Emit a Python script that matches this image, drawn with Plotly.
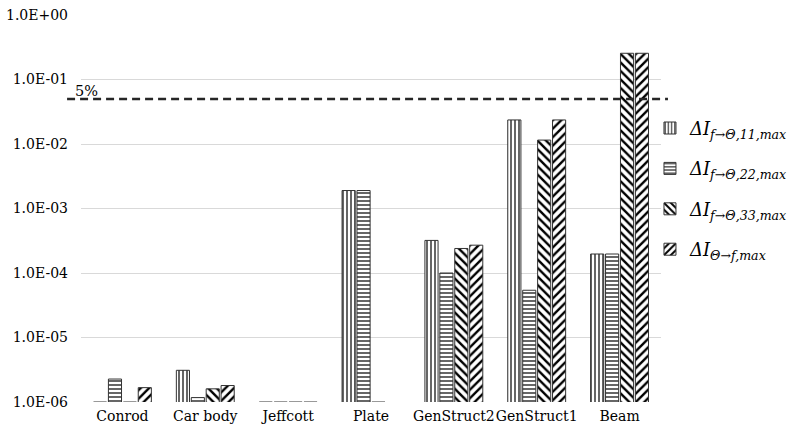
import math
import plotly.graph_objects as go

# Categories (model names) on the x axis
models = ["Conrod", "Car body", "Jeffcott", "Plate", "GenStruct2", "GenStruct1", "Beam"]

# Maximum deviations per model (log scale, 1.0E-06 is the axis floor)
dI_f_theta_11 = [1.0e-6, 3.1e-6, 1.0e-6, 1.9e-3, 3.2e-4, 2.36e-2, 1.97e-4]
dI_f_theta_22 = [2.27e-6, 1.17e-6, 1.0e-6, 1.9e-3, 1.0e-4, 5.4e-5, 1.97e-4]
dI_f_theta_33 = [1.0e-6, 1.6e-6, 1.0e-6, 1.0e-6, 2.4e-4, 1.15e-2, 2.55e-1]
dI_theta_f = [1.67e-6, 1.8e-6, 1.0e-6, None, 2.7e-4, 2.36e-2, 2.55e-1]

# Legend names
names = [
    "<i>ΔI<sub>f→Θ,11,max</sub></i>",
    "<i>ΔI<sub>f→Θ,22,max</sub></i>",
    "<i>ΔI<sub>f→Θ,33,max</sub></i>",
    "<i>ΔI<sub>Θ→f,max</sub></i>",
]

# Y tick values and labels
y_tickvals = [1e-6, 1e-5, 1e-4, 1e-3, 1e-2, 1e-1, 1e0]
y_ticktext = ["1.0E-06", "1.0E-05", "1.0E-04", "1.0E-03", "1.0E-02", "1.0E-01", "1.0E+00"]

# 5% threshold line
threshold = 0.05
threshold_label = "5%"
y_min_exp, y_max_exp = -6, 0

series = [dI_f_theta_11, dI_f_theta_22, dI_f_theta_33, dI_theta_f]
patterns = [
    dict(shape="|", size=4, solidity=0.3),
    dict(shape="-", size=4, solidity=0.3),
    dict(shape="\\", size=6, solidity=0.4),
    dict(shape="/", size=6, solidity=0.4),
]

FONT = "DejaVu Serif"

fig = go.Figure()
for i, (vals, name, pat) in enumerate(zip(series, names, patterns)):
    fig.add_trace(go.Bar(
        x=models,
        y=vals,
        name=name,
        legendgroup=f"g{i}",
        marker=dict(
            color="white",
            line=dict(color="#333333", width=1),
            pattern=dict(fgcolor="black", bgcolor="white", fillmode="replace", **pat),
        ),
    ))

# threshold position as a fraction of the log axis height
thr_frac = (math.log10(threshold) - y_min_exp) / (y_max_exp - y_min_exp)
fig.add_shape(
    type="line", xref="paper", yref="paper",
    x0=-0.024, x1=1.012, y0=thr_frac, y1=thr_frac,
    line=dict(color="#262626", width=2.5, dash="8px,5px"),
    layer="above",
)
fig.add_annotation(
    text=threshold_label, xref="paper", yref="paper",
    x=-0.014, y=thr_frac,
    xanchor="left", yanchor="bottom", showarrow=False,
    font=dict(family=FONT, size=14.5, color="black"),
    yshift=-2,
)

fig.update_layout(
    width=790, height=430,
    margin=dict(l=81, r=129, t=15, b=28, autoexpand=False),
    paper_bgcolor="white", plot_bgcolor="white",
    barmode="group", bargap=0.28, bargroupgap=0.12,
    font=dict(family=FONT, size=14, color="black"),
    legend=dict(
        x=0.981, y=0.755, xanchor="left", yanchor="top",
        font=dict(family=FONT, size=18, color="black"),
        tracegroupgap=14,
        itemwidth=30,
        bgcolor="rgba(0,0,0,0)",
    ),
    xaxis=dict(
        showgrid=False, showline=False, zeroline=False, automargin=False,
        tickfont=dict(family=FONT, size=14, color="black"),
        ticks="", tickangle=0, ticklabelstandoff=4,
    ),
    yaxis=dict(
        type="log", range=[y_min_exp, y_max_exp], automargin=False,
        tickvals=y_tickvals, ticktext=y_ticktext,
        showgrid=True, gridcolor="#d9d9d9", gridwidth=1.3,
        showline=False, zeroline=False,
        tickfont=dict(family=FONT, size=14, color="black"),
        ticklabelstandoff=12,
    ),
)

fig.write_html("out.html")
